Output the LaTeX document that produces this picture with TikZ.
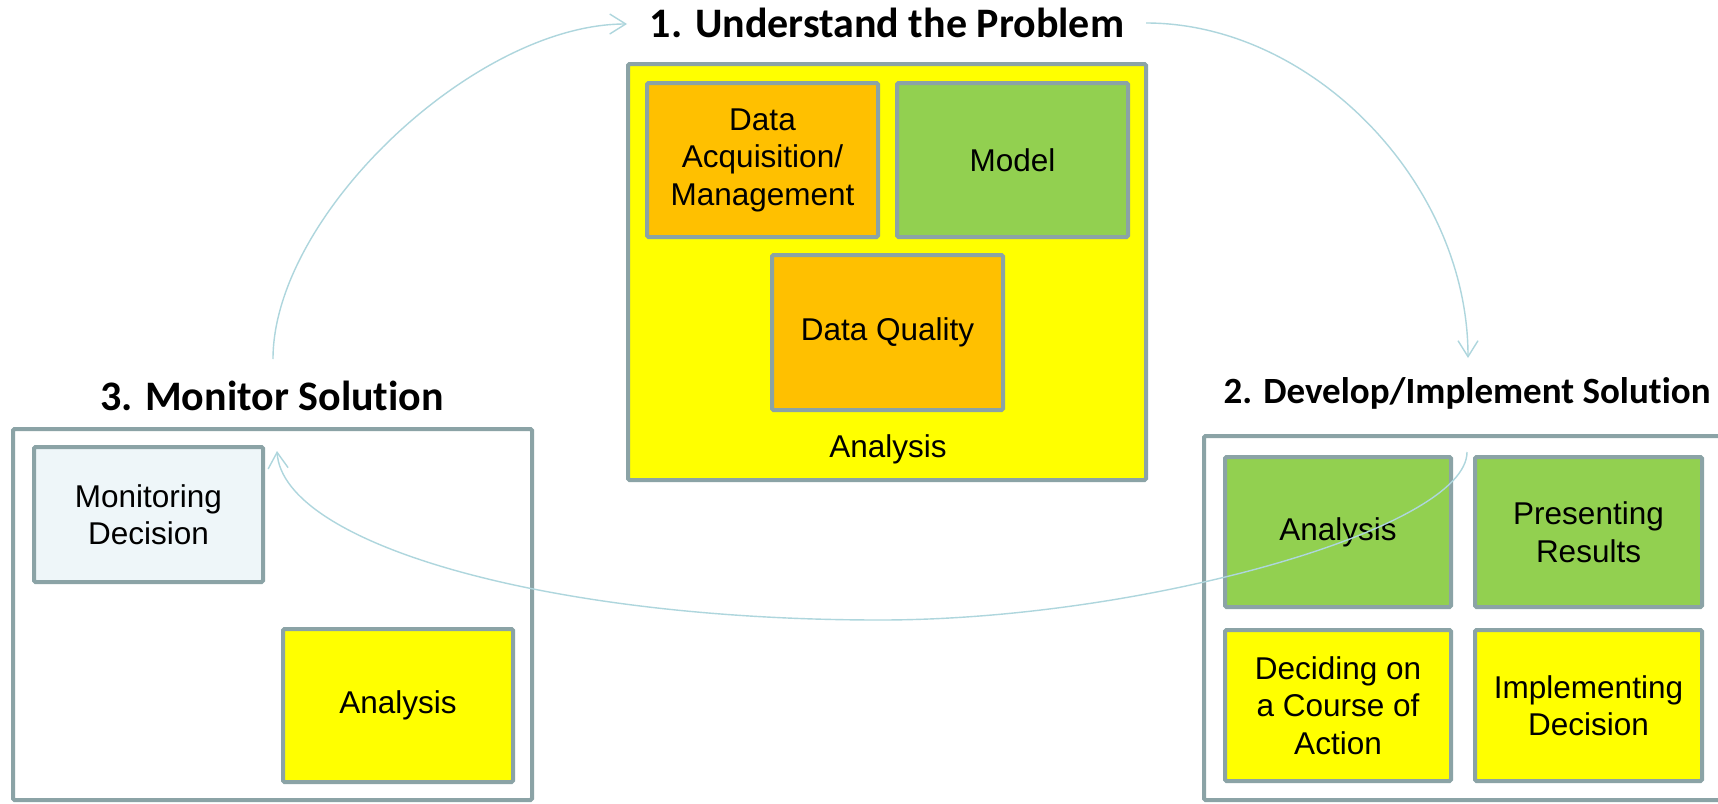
\documentclass[tikz,border=0pt]{standalone}
\usepackage{fontspec}
\setmainfont{Liberation Sans}
\newfontfamily\titlefont{Carlito}[Ligatures=NoCommon]
\usetikzlibrary{arrows.meta}
\definecolor{bordergray}{HTML}{8BA3A6}
\definecolor{arrowblue}{HTML}{AED6DD}
\definecolor{boxyellow}{HTML}{FFFF00}
\definecolor{boxorange}{HTML}{FFC000}
\definecolor{boxgreen}{HTML}{92D050}
\definecolor{boxpale}{HTML}{EEF6F9}
\begin{document}
\begin{tikzpicture}[x=1pt,y=-1pt,
  box/.style={draw=bordergray, line width=4pt, rounded corners=1.5pt, align=center, inner sep=0pt,
    font=\fontsize{31.5}{37.5}\selectfont},
  lbl/.style={font=\fontsize{31.5}{37.5}\selectfont, anchor=base, inner sep=0pt},
  ttl/.style={font=\titlefont\bfseries\fontsize{42}{50}\selectfont, anchor=base, inner sep=0pt},
  ttlsmall/.style={font=\titlefont\bfseries\fontsize{37}{44}\selectfont, anchor=base, inner sep=0pt},
  flow/.style={draw=arrowblue, line width=1.4pt, -{Straight Barb[length=16pt,width=20pt,line width=1.4pt]}}
]
\path[use as bounding box] (0,0) rectangle (1718,803);
\fill[white] (0,0) rectangle (1718,803);
\clip (0,0) rectangle (1718,803);

% titles
\node[ttl] (t1) at (887,37) {1. Understand the Problem};
\node[ttlsmall] (t2) at (1467,403) {2. Develop/Implement Solution};
\node[ttl] (t3) at (272,410) {3. Monitor Solution};

% group 1
\node[box, fill=boxyellow, minimum width=518pt, minimum height=416pt] (g1) at (887,272) {};
\node[box, fill=boxorange, minimum width=231pt, minimum height=154pt] (acq) at (762.5,160) {Data\\Acquisition/\\Management};
\node[box, fill=boxgreen, minimum width=231pt, minimum height=154pt] (model) at (1012.5,160) {Model};
\node[box, fill=boxorange, minimum width=231pt, minimum height=155pt] (dq) at (887.5,332.5) {Data Quality};
\node[lbl] (an1) at (888,457) {Analysis};

% group 2
\node[box, fill=white, minimum width=536pt, minimum height=364pt] (g2) at (1472,618) {};
\node[box, fill=boxgreen, minimum width=226pt, minimum height=150pt] (an2) at (1338,532) {Analysis};
\node[box, fill=boxgreen, minimum width=227pt, minimum height=150pt] (pres) at (1588.5,532) {Presenting\\Results};
\node[box, fill=boxyellow, minimum width=226pt, minimum height=151pt] (dec) at (1338,705.5) {Deciding on\\a Course of\\Action};
\node[box, fill=boxyellow, minimum width=227pt, minimum height=151pt] (impl) at (1588.5,705.5) {Implementing\\Decision};

% group 3
\node[box, fill=white, minimum width=519pt, minimum height=371pt] (g3) at (272.5,614.5) {};
\node[box, fill=boxpale, minimum width=229pt, minimum height=135pt] (mon) at (148.5,514.5) {Monitoring\\Decision};
\node[box, fill=boxyellow, minimum width=230pt, minimum height=153pt] (an3) at (398,705.5) {Analysis};

% connectors
\coordinate (aS) at (273,359);
\coordinate (aE) at (627,24);
\coordinate (bS) at (1146,23);
\coordinate (bE) at (1468,358);
\coordinate (cS) at (1467,452);
\coordinate (cM) at (880,620);
\coordinate (cE) at (277,451);
\draw[flow] (aS) .. controls (273,215) and (475,24) .. (aE);
\draw[flow] (bS) .. controls (1313,23) and (1468,184) .. (bE);
\draw[flow] (cS) .. controls (1467,528) and (1144,620) .. (cM) .. controls (547,620) and (283,544) .. (cE);
\end{tikzpicture}
\end{document}
